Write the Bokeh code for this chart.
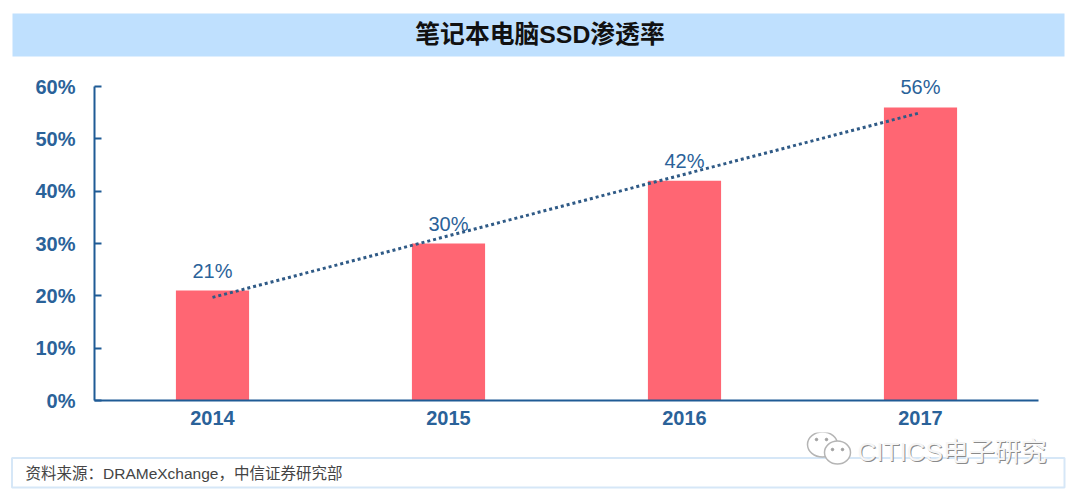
from bokeh.plotting import figure
from bokeh.layouts import column
from bokeh.models import ColumnDataSource, FactorRange, Range1d, FixedTicker, PrintfTickFormatter
from bokeh.core.properties import value
from bokeh.embed import file_html
from bokeh.resources import INLINE

years = ["2014", "2015", "2016", "2017"]
share = [21, 30, 42, 56]
labels = ["21%", "30%", "42%", "56%"]
trend_start_end = [19.7, 55.0]
y_ticks = [0, 10, 20, 30, 40, 50, 60]
title_text = "笔记本电脑SSD渗透率"
source_text = "资料来源：DRAMeXchange，中信证券研究部"
mark_text = "CITICS电子研究"

BLUE = "#2a6299"
LINE = "#1f5b95"
LATIN = "Liberation Sans"
MIXED = "Liberation Sans, Noto Sans CJK SC"
W = 1080
TOP_H, MID_H, BOT_H = 60, 372, 65
FOOT_Y0 = TOP_H + MID_H
AXIS_Y, Y60 = 400, 86
PX_PER_UNIT = (AXIS_Y - Y60) / 60


def strip(y0, h):
    f = figure(width=W, height=h, x_range=Range1d(0, W), y_range=Range1d(y0 + h, y0),
               x_axis_type=None, y_axis_type=None, output_backend="svg", toolbar_location=None, tools="",
               min_border=0, min_border_left=0, min_border_right=0, min_border_top=0, min_border_bottom=0,
               frame_align=False)
    f.outline_line_color = None
    f.grid.visible = False
    return f


# title band
top = strip(0, TOP_H)
top.quad(left=[12], right=[1064], top=[13], bottom=[56], fill_color="#bfe0fe", line_color=None)
top.text(x=[539.5], y=[34], text=[title_text], text_align="center", text_baseline="middle",
         text_font=value(MIXED), text_font_style="bold", text_font_size="24.8px", text_color="#111111")

# chart
frame_h = AXIS_Y - TOP_H
p = figure(width=W, height=MID_H, x_range=FactorRange(factors=years), y_range=Range1d(0, frame_h / PX_PER_UNIT),
           output_backend="svg", toolbar_location=None, tools="", frame_align=False,
           min_border_left=94, min_border_right=42, min_border_top=0, min_border_bottom=MID_H - frame_h)
p.outline_line_color = None
p.grid.visible = False

ax = p.yaxis[0]
ax.ticker = FixedTicker(ticks=y_ticks)
ax.bounds = (0, 60)
ax.formatter = PrintfTickFormatter(format="%d%%")
ax.major_tick_in = 7
ax.major_tick_out = 0
ax.minor_tick_line_color = None
ax.axis_line_color = LINE
ax.axis_line_width = 2
ax.major_tick_line_color = LINE
ax.major_tick_line_width = 2
ax.major_label_text_color = BLUE
ax.major_label_text_font = LATIN
ax.major_label_text_font_size = "20px"
ax.major_label_text_font_style = "bold"
ax.major_label_standoff = 19

bx = p.xaxis[0]
bx.major_tick_line_color = None
bx.minor_tick_line_color = None
bx.axis_line_color = LINE
bx.axis_line_width = 2
bx.major_label_text_color = BLUE
bx.major_label_text_font = LATIN
bx.major_label_text_font_size = "20px"
bx.major_label_text_font_style = "bold"
bx.major_label_standoff = 4

src = ColumnDataSource(dict(x=years, y=share, t=labels))
p.vbar(x="x", top="y", width=0.31, bottom=0, source=src, fill_color="#ff6673", line_color=None)
p.text(x="x", y="y", text="t", source=src, text_align="center", text_baseline="bottom", y_offset=-9,
       text_color=BLUE, text_font=value(LATIN), text_font_size="20px")
p.line(x=[years[0], years[-1]], y=trend_start_end, line_color="#2f5a86", line_width=3, line_dash="3 3")

# footer + watermark
bot = strip(FOOT_Y0, BOT_H)
bot.quad(left=[11.5], right=[1064], top=[457.5], bottom=[487], fill_color="white", line_color="#d6e7f7", line_width=2)
bot.text(x=[25], y=[473], text=[source_text], text_align="left", text_baseline="middle",
         text_font=value(MIXED), text_font_size="15.5px", text_color="#444444")
bot.ellipse(x=[822, 837], y=[444, 452], width=[30, 26], height=[25, 23], fill_color="white",
            line_color="#b5b5b5", line_width=1.5)
bot.scatter(x=[816, 826, 832, 842], y=[439, 439, 449, 449], size=2.5, color="#a0a0a0")
bot.text(x=[858], y=[452], text=[mark_text], text_align="left", text_baseline="middle",
         text_font=value(MIXED), text_font_size="26px", text_color="#8a8a8a")
bot.text(x=[857], y=[451], text=[mark_text], text_align="left", text_baseline="middle",
         text_font=value(MIXED), text_font_size="26px", text_color="#f6f6f6")

page = column(top, p, bot, spacing=0)
open("out.html", "w").write(file_html(page, INLINE))
